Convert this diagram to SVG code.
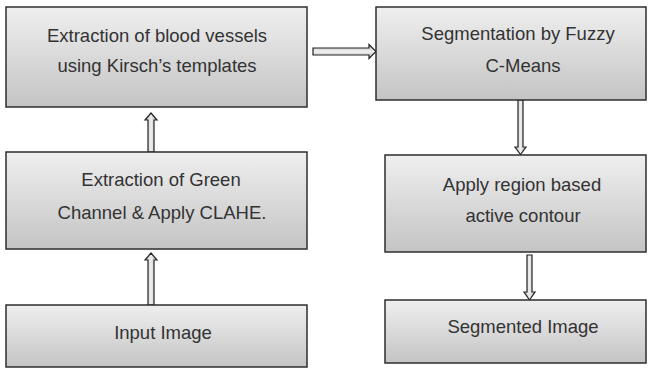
<svg xmlns="http://www.w3.org/2000/svg" width="648" height="368" viewBox="0 0 648 368">
<defs>
<linearGradient id="boxfill" x1="0" y1="0" x2="0" y2="1">
<stop offset="0" stop-color="#efefef"/>
<stop offset="1" stop-color="#c4c4c4"/>
</linearGradient>
<linearGradient id="arrowfill" x1="0" y1="0" x2="1" y2="0">
<stop offset="0" stop-color="#bdbdbd"/>
<stop offset="0.5" stop-color="#eeeeee"/>
<stop offset="1" stop-color="#bdbdbd"/>
</linearGradient>
<linearGradient id="arrowfillh" x1="0" y1="0" x2="0" y2="1">
<stop offset="0" stop-color="#bdbdbd"/>
<stop offset="0.5" stop-color="#eeeeee"/>
<stop offset="1" stop-color="#bdbdbd"/>
</linearGradient>
</defs>
<style>
.box{fill:url(#boxfill);stroke:#2e2e2e;stroke-width:1.5}
.lbl{font-family:"Liberation Sans",Arial,sans-serif;font-size:18.5px;fill:#333;text-anchor:middle}
.arr{fill:url(#arrowfill);stroke:#222;stroke-width:1.2;stroke-linejoin:miter}
.arrh{fill:url(#arrowfillh);stroke:#222;stroke-width:1.2;stroke-linejoin:miter}
</style>
<rect width="648" height="368" fill="#ffffff"/>
<g id="connectors">
<polygon class="arrh" points="313,48 369,48 369,44.5 376,51.5 369,58.5 369,55 313,55"/>
<polygon class="arr" points="148,152 148,120 145,120 151,113 157,120 154,120 154,152"/>
<polygon class="arr" points="148,305 148,260 145,260 151,253 157,260 154,260 154,305"/>
<polygon class="arr" points="518,100 518,147 515,147 520.5,154.5 526,147 523,147 523,100"/>
<polygon class="arr" points="527,255 527,292 524,292 529.5,300 535,292 532,292 532,255"/>
</g>
<g id="node-vessels">
<rect class="box" x="6" y="7" width="301" height="100"/>
<text class="lbl" x="157" y="42">Extraction of blood vessels</text>
<text class="lbl" x="157" y="72">using Kirsch’s templates</text>
</g>
<g id="node-fcm">
<rect class="box" x="376" y="7" width="270" height="93"/>
<text class="lbl" x="518" y="40">Segmentation by Fuzzy</text>
<text class="lbl" x="523" y="72">C-Means</text>
</g>
<g id="node-green">
<rect class="box" x="6" y="152" width="301" height="97"/>
<text class="lbl" x="161" y="186">Extraction of Green</text>
<text class="lbl" x="162" y="219">Channel &amp; Apply CLAHE.</text>
</g>
<g id="node-contour">
<rect class="box" x="385" y="155" width="261" height="97"/>
<text class="lbl" x="522" y="191">Apply region based</text>
<text class="lbl" x="523" y="222">active contour</text>
</g>
<g id="node-input">
<rect class="box" x="6" y="305" width="301" height="62"/>
<text class="lbl" x="163" y="339">Input Image</text>
</g>
<g id="node-segmented">
<rect class="box" x="385" y="300" width="261" height="63"/>
<text class="lbl" x="523" y="333">Segmented Image</text>
</g>
</svg>
